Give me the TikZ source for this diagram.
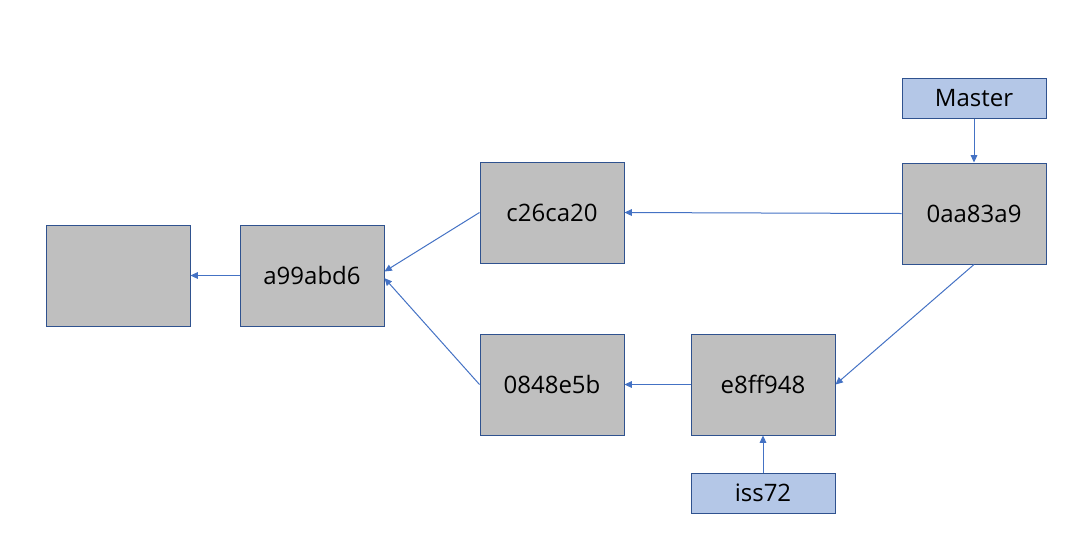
\documentclass[tikz,border=0pt]{standalone}
\usepackage{fontspec}
\setmainfont{Open Sans}
\usetikzlibrary{calc,arrows.meta}

\definecolor{cgray}{HTML}{BFBFBF}
\definecolor{cedge}{HTML}{2F528F}
\definecolor{clab}{HTML}{B4C7E7}
\definecolor{carr}{HTML}{4472C4}

\begin{document}
\begin{tikzpicture}[x=0.75pt, y=-0.75pt,
commit/.style={draw=cedge, line width=0.75pt, fill=cgray, minimum width=108pt, minimum height=75.75pt, inner sep=0, font=\fontsize{18}{21}\selectfont},
br/.style={draw=cedge, line width=0.75pt, fill=clab, minimum width=108pt, minimum height=30pt, inner sep=0, font=\fontsize{18}{21}\selectfont},
ar/.style={-{Triangle[length=5.5pt,width=5pt]}, draw=carr, line width=0.75pt}]
	\useasboundingbox (0,0) rectangle (1065,551);
	\node[commit] at (118,275.5) (root) {};
	\node[commit] at (312,275.5) (a99) {a99abd6};
	\node[commit] at (552,212.5) (c26) {c26ca20};
	\node[commit] at (552,384.5) (c08) {0848e5b};
	\node[commit] at (763,384.5) (e8f) {e8ff948};
	\node[commit] at (974,213.5) (c0a) {0aa83a9};
	
	\node[br] at (974,98) (master) {Master};
	\node[br] at (763,493) (iss) {iss72};
	
	\draw[ar] (a99.west) -- (root.east);
	\draw[ar] (c26.west) -- ([yshift=3pt]a99.east);
	\draw[ar] (c08.west) -- ([yshift=-2pt]a99.east);
	\draw[ar] (c0a.west) -- (c26.east);
	\draw[ar] (c0a.south) -- (e8f.east);
	\draw[ar] (e8f.west) -- (c08.east);
	\draw[ar] (master.south) -- (c0a.north);
	\draw[ar] (iss.north) -- (e8f.south);
\end{tikzpicture}
\end{document}
